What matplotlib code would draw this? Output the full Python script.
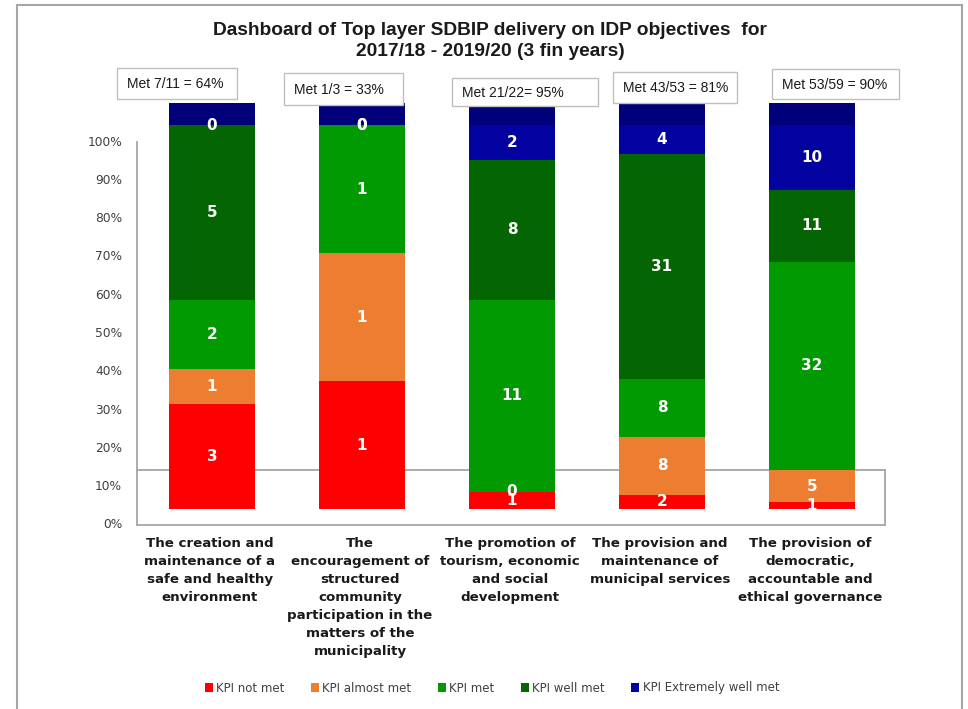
import matplotlib
matplotlib.use("Agg")
import matplotlib.pyplot as plt
from matplotlib.patches import Rectangle, Patch
from matplotlib.lines import Line2D
import numpy as np

# ---------------- data ----------------
categories = [
    "The creation and\nmaintenance of a\nsafe and healthy\nenvironment",
    "The\nencouragement of\nstructured\ncommunity\nparticipation in the\nmatters of the\nmunicipality",
    "The promotion of\ntourism, economic\nand social\ndevelopment",
    "The provision and\nmaintenance of\nmunicipal services",
    "The provision of\ndemocratic,\naccountable and\nethical governance",
]
kpi_not_met = [3, 1, 1, 2, 1]
kpi_almost_met = [1, 1, 0, 8, 5]
kpi_met = [2, 1, 11, 8, 32]
kpi_well_met = [5, 0, 8, 31, 11]
kpi_extremely_well_met = [0, 0, 2, 4, 10]
top_cap_pct = [5.7, 5.7, 5.7, 5.7, 5.7]   # unlabelled navy segment on top of each bar
met_notes = ["Met 7/11 = 64%", "Met 1/3 = 33%", "Met 21/22= 95%",
             "Met 43/53 = 81%", "Met 53/59 = 90%"]
series_names = ["KPI not met", "KPI almost met", "KPI met", "KPI well met",
                "KPI Extremely well met"]
tick_labels = ["0%", "10%", "20%", "30%", "40%", "50%", "60%", "70%", "80%", "90%", "100%"]
title = "Dashboard of Top layer SDBIP delivery on IDP objectives  for\n2017/18 - 2019/20 (3 fin years)"

# ---------------- styles ----------------
colors = ["#FF0000", "#ED7D31", "#029A02", "#036603", "#0202A0"]
cap_color = "#00007A"
grey = "#A6A6A6"
W, H = 968, 709

fig = plt.figure(figsize=(W / 100, H / 100), dpi=100)

def fx(px):
    return px / W

def fy(py):
    return 1 - py / H

# axes placement (pixels)
ax_left, ax_right, ax_bottom_px, ax_top_px = 137, 887, 525, 100
ax = fig.add_axes([fx(ax_left), fy(ax_bottom_px), fx(ax_right - ax_left),
                   (ax_bottom_px - ax_top_px) / H])
px_per_unit = 3.84
zero_px = 509
ylo = -(ax_bottom_px - zero_px) / px_per_unit
yhi = (zero_px - ax_top_px) / px_per_unit
ax.set_ylim(ylo, yhi)
ax.set_xlim(-0.5, 4.5)
for s in ax.spines.values():
    s.set_visible(False)
ax.set_xticks([])
ax.set_yticks([])
ax.patch.set_alpha(0)

series = [kpi_not_met, kpi_almost_met, kpi_met, kpi_well_met, kpi_extremely_well_met]
counts = np.array(series, dtype=float)
totals = counts.sum(axis=0)
pct = counts / totals * 100
x = np.arange(len(categories))
bw = 0.567

bottom = np.zeros(len(categories))
label_info = []
for i, (vals, c) in enumerate(zip(pct, colors)):
    ax.bar(x, vals, bw, bottom=bottom, color=c, zorder=3, label=series_names[i])
    for j in range(len(x)):
        label_info.append((x[j], bottom[j] + vals[j] / 2, int(counts[i][j])))
    bottom = bottom + vals
ax.bar(x, top_cap_pct, bw, bottom=bottom, color=cap_color, zorder=3)

for xx, yy, n in label_info:
    ax.text(xx, yy, str(n), ha="center", va="center", color="white",
            fontsize=11, fontweight="bold", family="DejaVu Sans", zorder=5)

# axis lines (pixel-based layout)
axis_top_unit = (zero_px - 142) / px_per_unit
ax.plot([-0.5, -0.5], [ylo, axis_top_unit], color=grey, lw=1.3, zorder=2, clip_on=False)
xr = (885 - ax_left) / 150 - 0.5
ax.plot([-0.5, xr], [ylo, ylo], color=grey, lw=1.3, zorder=2, clip_on=False)
box_top = (zero_px - 470) / px_per_unit
ax.plot([-0.5, xr], [box_top, box_top], color=grey, lw=1.3, zorder=2, clip_on=False)
ax.plot([xr, xr], [ylo, box_top], color=grey, lw=1.3, zorder=2, clip_on=False)

# y tick labels
for k, lab in enumerate(tick_labels):
    py = 525 - k * 38.3
    fig.text(fx(122), fy(py), lab, ha="right", va="center", fontsize=8.8,
             color="#404040", family="DejaVu Sans")

# category labels
for j, cat in enumerate(categories):
    fig.text(fx(ax_left + 75 + 150 * j - 2), fy(537), cat, ha="center", va="top",
             fontsize=9.6, fontweight="bold", family="DejaVu Sans",
             linespacing=1.5, color="#1a1a1a")

# title
fig.text(fx(490), fy(41), title, ha="center", va="center", fontsize=13.8,
         fontweight="bold", family="Liberation Sans",
         linespacing=1.25, color="#1a1a1a")

# annotation boxes
boxes = [(117, 68, 120, 31), (284, 73, 119, 32), (452, 78, 146, 28),
         (613, 72, 124, 31), (772, 69, 127, 30)]
for (bx, by, bwid, bh), note in zip(boxes, met_notes):
    fig.patches.append(Rectangle((fx(bx), fy(by + bh)), bwid / W, bh / H,
                                 transform=fig.transFigure, facecolor="white",
                                 edgecolor="#BFBFBF", lw=1, zorder=4))
    fig.text(fx(bx + 10), fy(by + bh / 2 + 1), note, ha="left", va="center",
             fontsize=10, family="Liberation Sans",
             color="#1a1a1a", zorder=6)

# legend
handles = [Patch(facecolor=c, edgecolor="none") for c in colors]
fig.legend(handles, series_names, loc="center", bbox_to_anchor=(fx(492), fy(688)),
           ncol=5, frameon=False, handlelength=0.7, handleheight=0.7,
           handletextpad=0.3, columnspacing=2.2,
           prop={"family": "DejaVu Sans", "size": 8.5})
for t in fig.legends[0].get_texts():
    t.set_color("#404040")

# chart area border
for (x0, y0, x1, y1) in [(17, 5, 962, 5), (17, 5, 17, 709), (962, 5, 962, 709)]:
    fig.add_artist(Line2D([fx(x0), fx(x1)], [fy(y0), fy(y1)], color=grey, lw=1.5,
                          transform=fig.transFigure))

fig.savefig("out.png", dpi=100, facecolor="white")
